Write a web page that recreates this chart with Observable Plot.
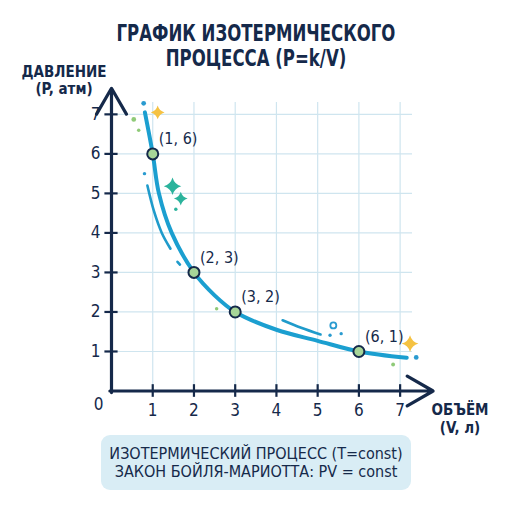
<!DOCTYPE html>
<html><head><meta charset="utf-8">
<script src="https://cdn.jsdelivr.net/npm/d3@7"></script>
<script src="https://cdn.jsdelivr.net/npm/@observablehq/plot@0.6"></script>
<style>
html,body{margin:0;padding:0;background:#fff;}
#wrap{position:relative;width:512px;height:512px;overflow:hidden;font-family:"DejaVu Sans Condensed","Roboto",sans-serif;color:#15294a;}
#chart{position:absolute;left:0;top:0;}
.t{position:absolute;white-space:nowrap;}
#title{left:0;width:512px;top:21px;text-align:center;font-weight:bold;font-size:23px;line-height:25px;}
#title div{transform:scaleX(0.8);transform-origin:50% 50%;}
#ylab{left:14px;top:64px;width:100px;text-align:center;font-weight:bold;font-size:15px;line-height:17px;}
#xlab{left:420px;top:401px;width:80px;text-align:center;font-weight:bold;font-size:15px;line-height:18px;}
#cap{left:101px;top:435px;width:310px;height:55px;background:#d9edf5;border-radius:9px;text-align:center;font-size:16px;line-height:18px;display:flex;flex-direction:column;justify-content:center;}
</style></head>
<body><div id="wrap">
<div id="chart"></div>
<div class="t" id="title"></div>
<div class="t" id="ylab"></div>
<div class="t" id="xlab"></div>
<div class="t" id="cap"></div>
</div>
<script>
const titleLines = ["ГРАФИК ИЗОТЕРМИЧЕСКОГО", "ПРОЦЕССА (P=k/V)"];
const yLabelLines = ["ДАВЛЕНИЕ", "(P, атм)"];
const xLabelLines = ["ОБЪЁМ", "(V, л)"];
const captionLines = ["ИЗОТЕРМИЧЕСКИЙ ПРОЦЕСС (T=const)", "ЗАКОН БОЙЛЯ-МАРИОТТА: PV = const"];

const xTicks = [1, 2, 3, 4, 5, 6, 7];
const yTicks = [1, 2, 3, 4, 5, 6, 7];

// curve
const curveV = [0.81, 1.0, 1.15, 1.46, 2.0, 2.5, 3.0, 4.0, 5.0, 6.0, 7.16];
const curveP = [7.05, 6.0, 5.0, 4.0, 3.0, 2.42, 2.0, 1.55, 1.27, 1.0, 0.84];

// marked points
const pointV = [1, 2, 3, 6];
const pointP = [6, 3, 2, 1];
const pointLabels = ["(1, 6)", "(2, 3)", "(3, 2)", "(6, 1)"];

// decorations
const decoStrokeV = [0.87, 1.03, 1.22, 1.43];
const decoStrokeP = [5.2, 4.55, 4.0, 3.6];
const decoDashV = [1.6, 1.66];
const decoDashP = [3.27, 3.2];
const decoStroke2V = [4.15, 4.6, 5.07];
const decoStroke2P = [1.79, 1.6, 1.43];
const decoDotV = [0.78, 0.54, 0.66, 0.8, 1.56, 7.39, 6.83, 2.55, 5.3, 5.57];
const decoDotP = [7.28, 6.87, 6.6, 5.5, 4.6, 0.85, 0.67, 2.08, 1.41, 1.45];
const decoDotR = [3, 3, 1.6, 1.6, 1.6, 3, 2, 1.6, 1.5, 1.5];
const decoDotC = ["#2a9bd0", "#8fca78", "#8fca78", "#2a9bd0", "#2bb39c", "#2a9bd0", "#8fca78", "#8fca78", "#2a9bd0", "#2a9bd0"];
const sparkV = [1.12, 1.48, 1.68, 7.24];
const sparkP = [7.05, 5.18, 4.87, 1.2];
const sparkS = [8, 13, 8, 12];
const sparkC = ["#f5c242", "#2bb39c", "#2bb39c", "#f5c242"];

document.getElementById("title").innerHTML = titleLines.map(s => `<div>${s}</div>`).join("");
document.getElementById("ylab").innerHTML = yLabelLines.join("<br>");
document.getElementById("xlab").innerHTML = xLabelLines.join("<br>");
document.getElementById("cap").innerHTML = captionLines.map(s => `<div>${s}</div>`).join("");

const navy = "#15294a";
const curve = curveV.map((v, i) => ({v, p: curveP[i]}));
const pts = pointV.map((v, i) => ({v, p: pointP[i], label: pointLabels[i]}));
const deco1 = decoStrokeV.map((v, i) => ({v, p: decoStrokeP[i]}));
const decoDash = decoDashV.map((v, i) => ({v, p: decoDashP[i]}));
const deco2 = decoStroke2V.map((v, i) => ({v, p: decoStroke2P[i]}));
const dots = decoDotV.map((v, i) => ({v, p: decoDotP[i], r: decoDotR[i], c: decoDotC[i]}));
const sparks = sparkV.map((v, i) => ({v, p: sparkP[i], s: sparkS[i], c: sparkC[i]}));

const xMax = 7.3, yMax = 7.3;
const xArrowEnd = 7.8, yArrowEnd = 7.66;

const star = {
  draw(context, size) {
    const r = Math.sqrt(size);
    const k = r * 0.22;
    context.moveTo(0, -r);
    context.quadraticCurveTo(k, -k, r, 0);
    context.quadraticCurveTo(k, k, 0, r);
    context.quadraticCurveTo(-k, k, -r, 0);
    context.quadraticCurveTo(-k, -k, 0, -r);
    context.closePath();
  }
};

const chart = Plot.plot({
  width: 512,
  height: 512,
  marginLeft: 111,
  marginRight: 100,
  marginTop: 102,
  marginBottom: 121.5,
  style: {fontFamily: '"DejaVu Sans Condensed",Roboto,sans-serif', color: navy, background: "transparent"},
  x: {domain: [0, xMax]},
  y: {domain: [0, yMax]},
  marks: [
    Plot.ruleX(xTicks, {stroke: "#cfe5ef", strokeWidth: 1.2}),
    Plot.ruleY(yTicks, {stroke: "#cfe5ef", strokeWidth: 1.2}),
    Plot.axisX({ticks: xTicks, tickSize: 0, tickPadding: 13, fontSize: 17, tickFormat: d => d}),
    Plot.axisY({ticks: yTicks, tickSize: 0, tickPadding: 11, fontSize: 17, tickFormat: d => d}),
    Plot.text([0], {x: 0, y: 0, text: d => String(d), dx: -13, dy: 14, fontSize: 17, fill: navy}),
    Plot.ruleX(xTicks, {x: d => d, y1: -0.16, y2: 0.16, stroke: navy, strokeWidth: 2.2}),
    Plot.ruleY(yTicks, {y: d => d, x1: -0.16, x2: 0.16, stroke: navy, strokeWidth: 2.2}),
    Plot.arrow([{x1: 0, y1: 0, x2: xArrowEnd, y2: 0}], {x1: "x1", y1: "y1", x2: "x2", y2: "y2", stroke: navy, strokeWidth: 3.2, headLength: 14, insetStart: -1.6}),
    Plot.arrow([{x1: 0, y1: 0, x2: 0, y2: yArrowEnd}], {x1: "x1", y1: "y1", x2: "x2", y2: "y2", stroke: navy, strokeWidth: 3.2, headLength: 14, insetStart: -1.6}),
    Plot.line(deco1, {x: "v", y: "p", curve: "catmull-rom", stroke: "#1f9bcb", strokeWidth: 2.6, strokeLinecap: "round"}),
    Plot.line(decoDash, {x: "v", y: "p", stroke: "#1f9bcb", strokeWidth: 2.6, strokeLinecap: "round"}),
    Plot.line(deco2, {x: "v", y: "p", curve: "catmull-rom", stroke: "#1f9bcb", strokeWidth: 2.6, strokeLinecap: "round"}),
    Plot.dot(dots, {x: "v", y: "p", r: "r", fill: "c", stroke: null}),
    Plot.dot([{v: 5.38, p: 1.66}], {x: "v", y: "p", r: 3, stroke: "#2a9bd0", strokeWidth: 1.8, fill: "none"}),
    Plot.dot(sparks, {x: "v", y: "p", symbol: star, r: d => d.s, fill: "c", stroke: null}),
    Plot.line(curve, {x: "v", y: "p", curve: "catmull-rom", stroke: "#1b9fd0", strokeWidth: 4, strokeLinecap: "round"}),
    Plot.dot(pts, {x: "v", y: "p", r: 5.5, fill: "#a7d598", stroke: navy, strokeWidth: 2}),
    Plot.text(pts, {x: "v", y: "p", text: "label", textAnchor: "start", dx: 6, dy: -15, fontSize: 16, fill: navy})
  ]
});
document.getElementById("chart").append(chart);
</script>
</body></html>
